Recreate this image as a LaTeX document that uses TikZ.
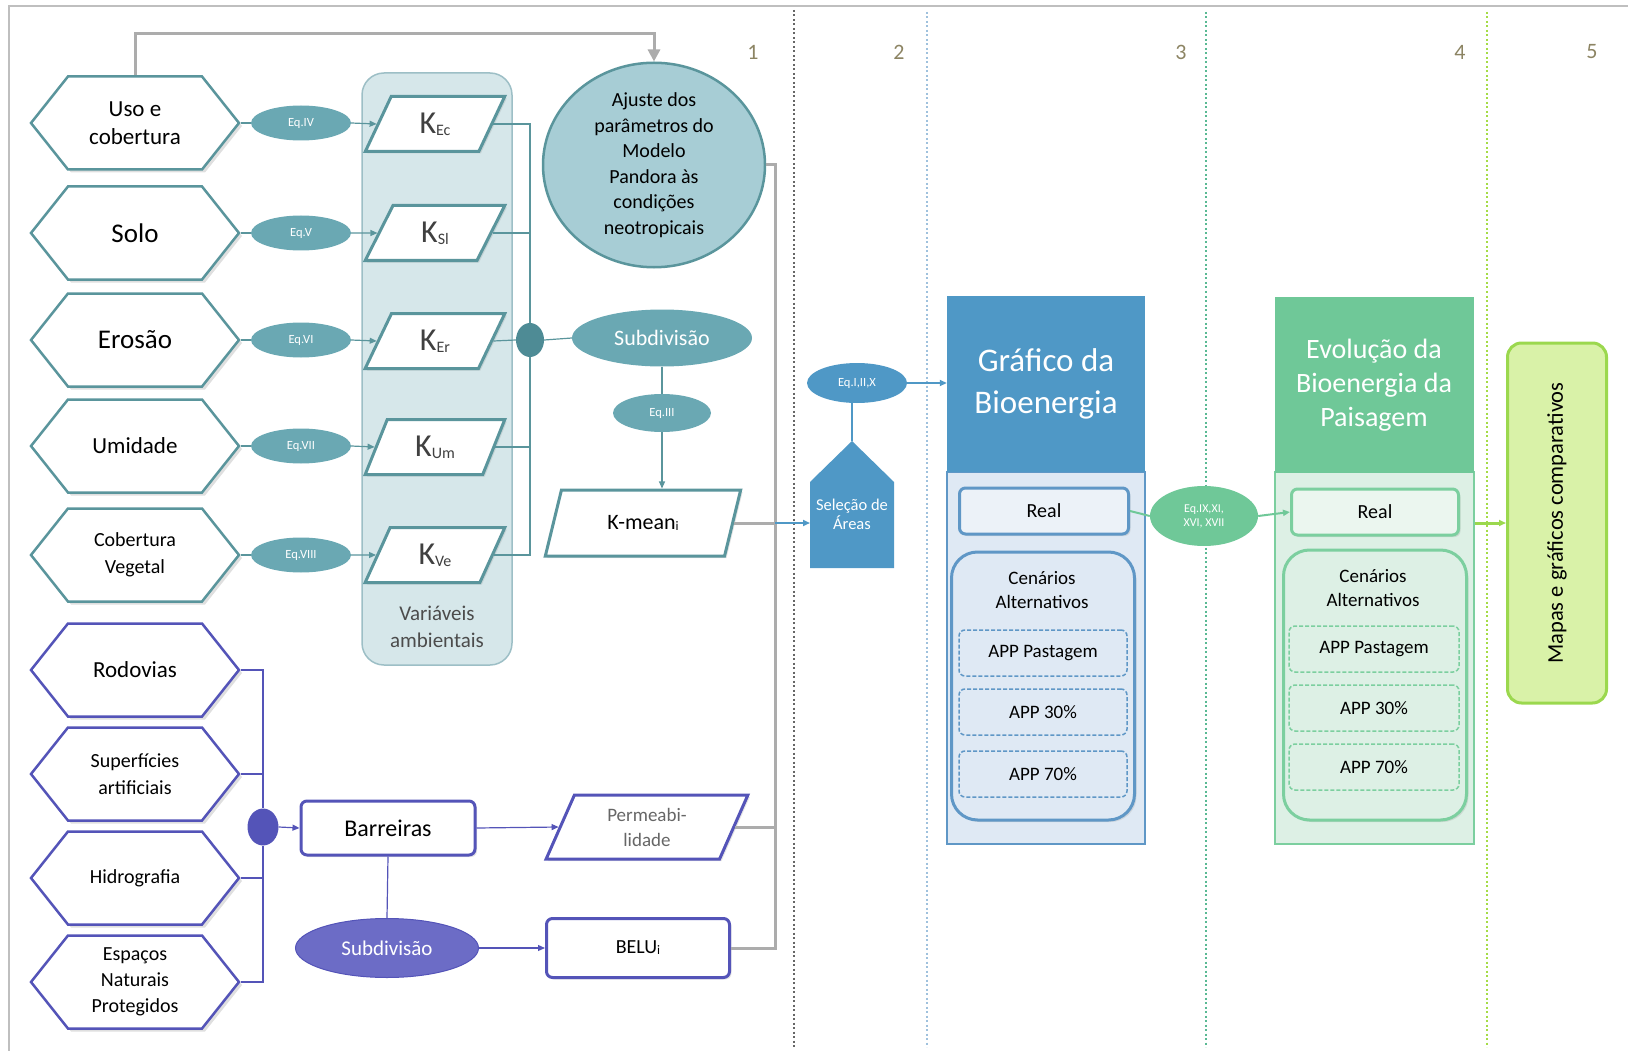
\documentclass[tikz,border=0pt]{standalone}
\usepackage{fontspec}
\setmainfont{Carlito}
\usepackage{xcolor}
\usetikzlibrary{shapes.geometric,shapes.symbols,arrows.meta,shadows,positioning}

\definecolor{tealb}{HTML}{5A959C}
\definecolor{tealeq}{HTML}{6AA8B3}
\definecolor{tealdot}{HTML}{4E8B95}
\definecolor{varfill}{HTML}{D6E7EA}
\definecolor{varline}{HTML}{9DBFC6}
\definecolor{ajfill}{HTML}{A7CDD5}
\definecolor{indb}{HTML}{5454B8}
\definecolor{indfill}{HTML}{6C6CC6}
\definecolor{bioblue}{HTML}{4F98C6}
\definecolor{biolight}{HTML}{DFE9F4}
\definecolor{bioline}{HTML}{5F97C6}
\definecolor{biogreen}{HTML}{6FC898}
\definecolor{greenlight}{HTML}{DDF0E5}
\definecolor{greenline}{HTML}{7CCF9F}
\definecolor{limefill}{HTML}{D9F2A8}
\definecolor{limeline}{HTML}{9BD84E}
\definecolor{numcol}{HTML}{8C8463}

\newcommand{\kvar}[1]{{\fontsize{32}{32}\selectfont K}\raisebox{-2pt}{\fontsize{16}{16}\selectfont #1}}

\tikzset{
  hexa/.style={shape=signal, signal to=east and west, signal pointer angle=103,
    draw=tealb, line width=2.5, fill=white, minimum width=208, minimum height=93,
    inner sep=0, align=center, font=\fontsize{23}{28}\selectfont,
    drop shadow={shadow xshift=3pt, shadow yshift=-3pt, opacity=.25}},
  hexb/.style={hexa, draw=indb},
  eqt/.style={ellipse, fill=tealeq, text=white, minimum width=100, minimum height=35,
    inner sep=0, font=\fontsize{12.5}{14}\selectfont},
  para/.style={trapezium, trapezium left angle=68, trapezium right angle=112,
    trapezium stretches=true, draw=tealb, line width=3, fill=white, inner sep=0,
    align=center, drop shadow={shadow xshift=2pt, shadow yshift=-2pt, opacity=.2}},
  ibox/.style={rectangle, rounded corners=6, draw=indb, line width=3, fill=white,
    minimum width=178, minimum height=56, align=center,
    drop shadow={shadow xshift=2pt, shadow yshift=-2pt, opacity=.2}},
  thint/.style={draw=tealb, line width=1.2},
  thini/.style={draw=indb, line width=1.2},
  tip/.style={-{Triangle[length=7pt,width=6pt]}},
  gline/.style={draw=gray!65, line width=3},
  sepline/.style={line width=2.5, dash pattern=on 2pt off 2.5pt},
  rbox/.style={rectangle, rounded corners=6, line width=3, minimum height=46,
    font=\fontsize{20}{24}\selectfont,
    drop shadow={shadow xshift=2pt, shadow yshift=-2pt, opacity=.2}},
  cbox/.style={rectangle, rounded corners=26, line width=3,
    drop shadow={shadow xshift=2pt, shadow yshift=-2pt, opacity=.2}},
  appbox/.style={rectangle, rounded corners=6, line width=1.5, dash pattern=on 4pt off 2pt,
    minimum height=46, font=\fontsize{19}{23}\selectfont}
}

\begin{document}
\begin{tikzpicture}[x=1pt,y=-1pt]
\useasboundingbox (0,0) rectangle (1628,1051);
\draw[gray!50, line width=2] (1628,6) -- (9,6) -- (9,1051);

% section separators and numbers
\draw[sepline, gray!80!black] (794,10) -- (794,1047);
\draw[sepline, bioline!60] (927,12) -- (927,1047);
\draw[sepline, biogreen!80!teal] (1206,12) -- (1206,1047);
\draw[sepline, limeline!90!yellow] (1487,12) -- (1487,1047);
\foreach \xx/\nn in {753/1, 899/2, 1181/3, 1460/4, 1592/5}
  \node[text=numcol, font=\fontsize{22}{22}\selectfont] at (\xx,52) {\nn};

% variaveis ambientais
\node[rectangle, rounded corners=22, draw=varline, line width=1.5, fill=varfill,
  minimum width=150, minimum height=592] (varamb) at (437,369) {};
\node[text=black!70, align=center, font=\fontsize{21}{27}\selectfont] (varlbl) at (437,627) {Variáveis\\ambientais};

% environmental inputs
\node[hexa] (uso) at (135,123) {Uso e\\cobertura};
\node[hexa, font=\fontsize{27}{30}\selectfont] (solo) at (135,233) {Solo};
\node[hexa, font=\fontsize{27}{30}\selectfont] (eros) at (135,340) {Erosão};
\node[hexa] (umid) at (135,446) {Umidade};
\node[hexa, font=\fontsize{20}{27}\selectfont] (cobv) at (135,555) {Cobertura\\Vegetal};

\node[eqt] (eq4) at (301,123) {Eq.IV};
\node[eqt] (eq5) at (301,233) {Eq.V};
\node[eqt] (eq6) at (301,340) {Eq.VI};
\node[eqt] (eq7) at (301,446) {Eq.VII};
\node[eqt] (eq8) at (301,555) {Eq.VIII};

\node[para, minimum width=140, minimum height=55, text=black!75] (kec) at (435,124) {\kvar{Ec}};
\node[para, minimum width=140, minimum height=55, text=black!75] (ksl) at (435,233) {\kvar{Sl}};
\node[para, minimum width=140, minimum height=55, text=black!75] (ker) at (435,341) {\kvar{Er}};
\node[para, minimum width=140, minimum height=55, text=black!75] (kum) at (435,447) {\kvar{Um}};
\node[para, minimum width=140, minimum height=55, text=black!75] (kve) at (435,555) {\kvar{Ve}};

\foreach \hh/\ee/\kk in {uso/eq4/kec, solo/eq5/ksl, eros/eq6/ker, umid/eq7/kum, cobv/eq8/kve}{
  \draw[thint] (\hh.east) -- (\ee.west);
  \draw[thint, tip] (\ee.east) -- (\kk.west);
}

\node[ellipse, fill=tealdot, minimum width=28, minimum height=34, inner sep=0] (jk) at (530,340) {};
\draw[thint] (kec.east) -| (jk.north);
\draw[thint] (kve.east) -| (jk.south);
\draw[thint] (ksl.east) -- (ksl.east -| jk);
\draw[thint] (kum.east) -- (kum.east -| jk);
\draw[thint] (ker.east) -- (jk.west);

% ajuste do modelo
\node[ellipse, draw=tealb, line width=2.5, fill=ajfill, minimum width=222, minimum height=204,
  inner sep=0, align=center, font=\fontsize{20}{25.5}\selectfont] (ajuste) at (654,165)
  {Ajuste dos\\parâmetros do\\Modelo\\Pandora às\\condições\\neotropicais};
\draw[gline, -{Triangle[length=12pt,width=12pt]}] (uso.north) -- (135,34) -| (ajuste.north);

\node[ellipse, fill=tealeq, text=white, minimum width=180, minimum height=57, inner sep=0,
  font=\fontsize{22}{24}\selectfont] (subt) at (662,338) {Subdivisão};
\node[eqt, minimum width=98, minimum height=38] (eq3) at (662,413) {Eq.III};
\node[para, trapezium left angle=65, trapezium right angle=115, minimum width=197,
  minimum height=66, font=\fontsize{22}{24}\selectfont] (kmean) at (643,523)
  {K-mean\raisebox{-1pt}{\fontsize{13}{13}\selectfont i}};
\draw[thint] (jk.east) -- (subt.west);
\draw[thint] (subt.south) -- (eq3.north);
\draw[thint, tip] (eq3.south) -- (eq3.south |- kmean.north);

% barreiras
\node[hexb] (rodo) at (135,670) {Rodovias};
\node[hexb, font=\fontsize{20}{27}\selectfont] (supe) at (135,774) {Superfícies\\artificiais};
\node[hexb, font=\fontsize{20}{27}\selectfont] (hidr) at (135,878) {Hidrografia};
\node[hexb, font=\fontsize{20}{26}\selectfont] (espa) at (135,982) {Espaços\\Naturais\\Protegidos};

\node[ellipse, fill=indb, minimum width=31, minimum height=37, inner sep=0] (jb) at (263,827) {};
\draw[thini] (rodo.east) -| (jb.north);
\draw[thini] (espa.east) -| (jb.south);
\draw[thini] (supe.east) -- (supe.east -| jb);
\draw[thini] (hidr.east) -- (hidr.east -| jb);

\node[ibox, minimum width=174, minimum height=54, font=\fontsize{24}{26}\selectfont] (barr) at (388,828) {Barreiras};
\node[para, draw=indb, minimum width=202, minimum height=64, text=black!60,
  font=\fontsize{19}{25}\selectfont] (perm) at (647,827) {Permeabi-\\lidade};
\node[ellipse, fill=indfill, draw=indb, line width=1, text=white, minimum width=183,
  minimum height=59, inner sep=0, font=\fontsize{21}{24}\selectfont] (subi) at (387,948) {Subdivisão};
\node[ibox, minimum width=183, minimum height=59, font=\fontsize{20}{24}\selectfont] (belu) at (638,948)
  {BELU\raisebox{-1pt}{\fontsize{13}{13}\selectfont i}};
\draw[thini, tip] (jb.east) -- (barr.west);
\draw[thini, tip] (barr.east) -- (perm.west);
\draw[thini] (barr.south) -- (subi.north);
\draw[thini, tip] (subi.east) -- (belu.west);

% gray collector
\coordinate (gb) at (775,523);
\draw[gline] (ajuste.east) -| (gb);
\draw[gline] (kmean.east) -- (gb);
\draw[gline] (perm.east) -| (gb);
\draw[gline] (belu.east) -| (gb);

% selecao de areas
\fill[bioblue] (810,568) -- (810,482) -- (852,441) -- (894,482) -- (894,568) -- cycle;
\coordinate (seltop) at (852,441);
\coordinate (selw) at (810,523);
\node[text=white, align=center, font=\fontsize{16.5}{19}\selectfont] (sel) at (852,514) {Seleção de\\Áreas};
\node[ellipse, fill=bioblue, text=white, minimum width=100, minimum height=40, inner sep=0,
  font=\fontsize{12.5}{14}\selectfont] (eq1) at (857,383) {Eq.I,II,X};
\draw[draw=bioblue, line width=2.5] (seltop) -- (seltop |- eq1.south);
\draw[draw=bioblue, line width=2.5, tip] (gb) -- (selw);

% grafico da bioenergia
\node[rectangle, draw=bioline, line width=2, fill=biolight, minimum width=198, minimum height=372] (grafb) at (1046,658) {};
\node[rectangle, fill=bioblue, text=white, minimum width=198, minimum height=176, align=center,
  font=\fontsize{33}{42}\selectfont] (grafh) at (1046,384) {Gráfico da\\Bioenergia};
\draw[draw=bioblue, line width=2.5, tip] (eq1.east) -- (eq1.east -| grafh.west);
\node[rbox, draw=bioline, fill=biolight!60!white, minimum width=169] (real1) at (1044,511) {Real};
\node[cbox, draw=bioline, fill=biolight, minimum width=183, minimum height=268] (cen1) at (1043,686) {};
\node[align=center, font=\fontsize{19}{24}\selectfont] (cent1) at (1042,590) {Cenários\\Alternativos};
\node[appbox, draw=bioline, minimum width=168] (app1a) at (1043,653) {APP Pastagem};
\node[appbox, draw=bioline, minimum width=168] (app1b) at (1043,712) {APP 30\%};
\node[appbox, draw=bioline, minimum width=168] (app1c) at (1043,774) {APP 70\%};

% evolucao da bioenergia
\node[rectangle, draw=greenline, line width=2, fill=greenlight, minimum width=199, minimum height=372] (evob) at (1374,658) {};
\node[rectangle, fill=biogreen, text=white, minimum width=199, minimum height=176, align=center,
  font=\fontsize{28}{34}\selectfont] (evoh) at (1374,385) {Evolução da\\Bioenergia da\\Paisagem};
\node[rbox, draw=greenline, fill=greenlight!60!white, minimum width=167] (real2) at (1375,512) {Real};
\node[cbox, draw=greenline, fill=greenlight, minimum width=183, minimum height=270] (cen2) at (1375,685) {};
\node[align=center, font=\fontsize{19}{24}\selectfont] (cent2) at (1373,588) {Cenários\\Alternativos};
\node[appbox, draw=greenline, minimum width=170] (app2a) at (1374,649) {APP Pastagem};
\node[appbox, draw=greenline, minimum width=170] (app2b) at (1374,708) {APP 30\%};
\node[appbox, draw=greenline, minimum width=170] (app2c) at (1374,767) {APP 70\%};

\node[ellipse, fill=biogreen, text=white, minimum width=108, minimum height=60, inner sep=0,
  align=center, font=\fontsize{12}{14}\selectfont] (eq9) at (1204,516) {Eq.IX,XI,\\XVI, XVII};
\draw[draw=biogreen, line width=2] (real1.east) -- (eq9.west);
\draw[draw=biogreen, line width=2, tip] (eq9.east) -- (real2.west);

% mapas
\node[rectangle, rounded corners=14, draw=limeline, line width=3, fill=limefill,
  minimum width=99, minimum height=360] (mapas) at (1557,523) {};
\node[rotate=90, font=\fontsize{22.5}{24}\selectfont] (mapt) at (mapas.center) {Mapas e gráficos comparativos};
\draw[draw=limeline, line width=3, tip] (evob.east |- mapas.west) -- (mapas.west);

\end{tikzpicture}
\end{document}
